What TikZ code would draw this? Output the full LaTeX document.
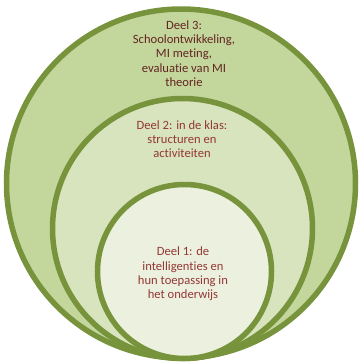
\documentclass[tikz,border=0pt]{standalone}
\usepackage{fontspec}
\setmainfont{Carlito}[Ligatures=NoCommon]
\definecolor{ringline}{HTML}{77933C}
\definecolor{fillthree}{HTML}{C3D69B}
\definecolor{filltwo}{HTML}{D7E4BD}
\definecolor{fillone}{HTML}{EBF1DE}
\definecolor{textdark}{HTML}{632523}
\definecolor{textred}{HTML}{953735}
\begin{document}
\begin{tikzpicture}[x=1pt,y=-1pt,
	ring/.style={circle,draw=ringline,line width=5.5pt,inner sep=0pt},
	parttext/.style={align=center,font=\fontsize{12.6}{14.3}\selectfont}]
	\useasboundingbox (0,0) rectangle (359,362);

	\node (ring3) [ring,fill=fillthree,minimum size=349pt] at (181,183.5) {};
	\node (ring2) [ring,fill=filltwo,minimum size=260pt] at (182.5,228.5) {};
	\node (ring1) [ring,fill=fillone,minimum size=174pt] at (184.5,271.5) {};

	\node (deel3) [parttext,text=textdark] at (184,53.5) {Deel 3:\\Schoolontwikkeling,\\MI meting,\\evaluatie van MI\\theorie};
	\node (deel2) [parttext,text=textred] at (182,139) {Deel 2: in de klas:\\structuren en\\activiteiten};
	\node (deel1) [parttext,text=textred] at (183,274) {Deel 1: de\\intelligenties en\\hun toepassing in\\het onderwijs};
\end{tikzpicture}
\end{document}
